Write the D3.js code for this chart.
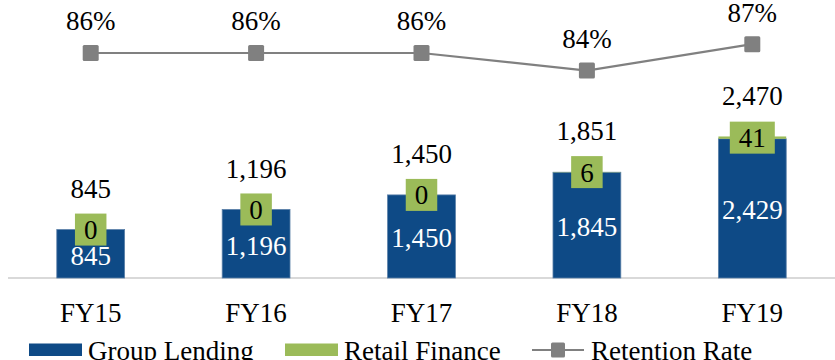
<!DOCTYPE html>
<html>
<head>
<meta charset="utf-8">
<script src="https://cdn.jsdelivr.net/npm/d3@7"></script>
<style>
  html, body { margin: 0; padding: 0; background: #fff; }
  svg { display: block; font-family: "Liberation Serif", "DejaVu Serif", serif; }
</style>
</head>
<body>
<svg id="chart" width="835" height="360"></svg>
<script>
// Customer numbers ('000) by fiscal year
const years = ["FY15", "FY16", "FY17", "FY18", "FY19"];
const groupLending = [845, 1196, 1450, 1845, 2429];
const retailFinance = [0, 0, 0, 6, 41];
const totals = [845, 1196, 1450, 1851, 2470];
const retentionRate = [86, 86, 86, 84, 87];

const BLUE = "#0e4a86";
const GREEN = "#9bbb59";
const GREY = "#808080";
const FS = 27;

const svg = d3.select("#chart");
const fmt = d3.format(",");

const x = d3.scaleBand().domain(years).range([8, 835]).paddingInner(0.59).paddingOuter(0.295);
const y = d3.scaleLinear().domain([0, 3000]).range([278, 106.1]);
const yr = d3.scaleLinear().domain([80, 90]).range([105.8, 17.8]);
const cx = d => x(d) + x.bandwidth() / 2;

const data = years.map((yr_, i) => ({
  year: yr_, gl: groupLending[i], rf: retailFinance[i], total: totals[i], rr: retentionRate[i]
}));

// baseline
svg.append("line")
  .attr("x1", 8).attr("x2", 835).attr("y1", y(0)).attr("y2", y(0))
  .attr("stroke", "#d9d9d9").attr("stroke-width", 2);

// group lending bars
svg.selectAll("rect.gl").data(data).join("rect")
  .attr("class", "gl")
  .attr("x", d => x(d.year)).attr("width", x.bandwidth())
  .attr("y", d => y(d.gl)).attr("height", d => y(0) - y(d.gl))
  .attr("fill", BLUE).attr("stroke", "#5a7fa8").attr("stroke-width", 0.8);

// retail finance bars stacked on top
svg.selectAll("rect.rf").data(data).join("rect")
  .attr("class", "rf")
  .attr("x", d => x(d.year)).attr("width", x.bandwidth())
  .attr("y", d => y(d.gl + d.rf)).attr("height", d => y(d.gl) - y(d.gl + d.rf))
  .attr("fill", GREEN);

// group lending value labels
svg.selectAll("text.gl").data(data).join("text")
  .attr("class", "gl")
  .attr("x", d => cx(d.year)).attr("y", d => (y(d.gl) + y(0)) / 2)
  .attr("dy", "0.4em").attr("text-anchor", "middle")
  .attr("fill", "#fff").attr("font-size", FS)
  .text(d => fmt(d.gl));

// retail finance value labels with filled boxes
const rfLab = svg.selectAll("g.rf").data(data).join("g")
  .attr("class", "rf")
  .attr("transform", d => `translate(${cx(d.year)},${(y(d.gl) + y(d.gl + d.rf)) / 2})`);
rfLab.append("text")
  .attr("text-anchor", "middle").attr("dy", "0.35em")
  .attr("font-size", FS).attr("fill", "#000")
  .text(d => fmt(d.rf));
rfLab.each(function() {
  const g = d3.select(this);
  const bb = g.select("text").node().getBBox();
  g.insert("rect", "text")
    .attr("x", -bb.width / 2 - 9).attr("width", bb.width + 18)
    .attr("y", -16).attr("height", 32)
    .attr("fill", GREEN);
});

// totals above the stacks
svg.selectAll("text.total").data(data).join("text")
  .attr("class", "total")
  .attr("x", d => cx(d.year)).attr("y", d => y(d.total) - 41)
  .attr("dy", "0.35em").attr("text-anchor", "middle")
  .attr("font-size", FS).attr("fill", "#000")
  .text(d => fmt(d.total));

// retention rate line
svg.append("path")
  .datum(data)
  .attr("fill", "none").attr("stroke", GREY).attr("stroke-width", 2.2)
  .attr("d", d3.line().x(d => cx(d.year)).y(d => yr(d.rr)));

svg.selectAll("rect.rr").data(data).join("rect")
  .attr("class", "rr")
  .attr("x", d => cx(d.year) - 8).attr("y", d => yr(d.rr) - 8)
  .attr("width", 16).attr("height", 16).attr("rx", 1.5)
  .attr("fill", GREY);

svg.selectAll("text.rr").data(data).join("text")
  .attr("class", "rr")
  .attr("x", d => cx(d.year)).attr("y", d => yr(d.rr) - 32)
  .attr("dy", "0.35em").attr("text-anchor", "middle")
  .attr("font-size", FS).attr("fill", "#000")
  .text(d => d.rr + "%");

// category axis
const xAxis = svg.append("g")
  .attr("transform", `translate(0,${y(0)})`)
  .call(d3.axisBottom(x).tickSize(0).tickPadding(0));
xAxis.select(".domain").remove();
xAxis.selectAll("text")
  .attr("y", 35).attr("dy", "0.35em")
  .attr("font-size", FS).attr("fill", "#000")
  .attr("font-family", "Liberation Serif, DejaVu Serif, serif");

// legend
const legend = svg.append("g").attr("font-size", FS);
const legItems = [
  { label: "Group Lending", type: "rect", color: BLUE, x: 29 },
  { label: "Retail Finance", type: "rect", color: GREEN, x: 285 },
  { label: "Retention Rate", type: "line", color: GREY, x: 532 }
];
legItems.forEach(it => {
  const g = legend.append("g").attr("transform", `translate(${it.x},350)`);
  if (it.type === "rect") {
    g.append("rect").attr("x", 0).attr("y", -6.5).attr("width", 53).attr("height", 12.5).attr("fill", it.color);
  } else {
    g.append("line").attr("x1", 0).attr("x2", 52).attr("y1", 0).attr("y2", 0)
      .attr("stroke", it.color).attr("stroke-width", 2.2);
    g.append("rect").attr("x", 19).attr("y", -7.5).attr("width", 14).attr("height", 15)
      .attr("rx", 1.5).attr("fill", it.color);
  }
  g.append("text").attr("x", 59).attr("y", 10).attr("fill", "#000").text(it.label);
});
</script>
</body>
</html>
